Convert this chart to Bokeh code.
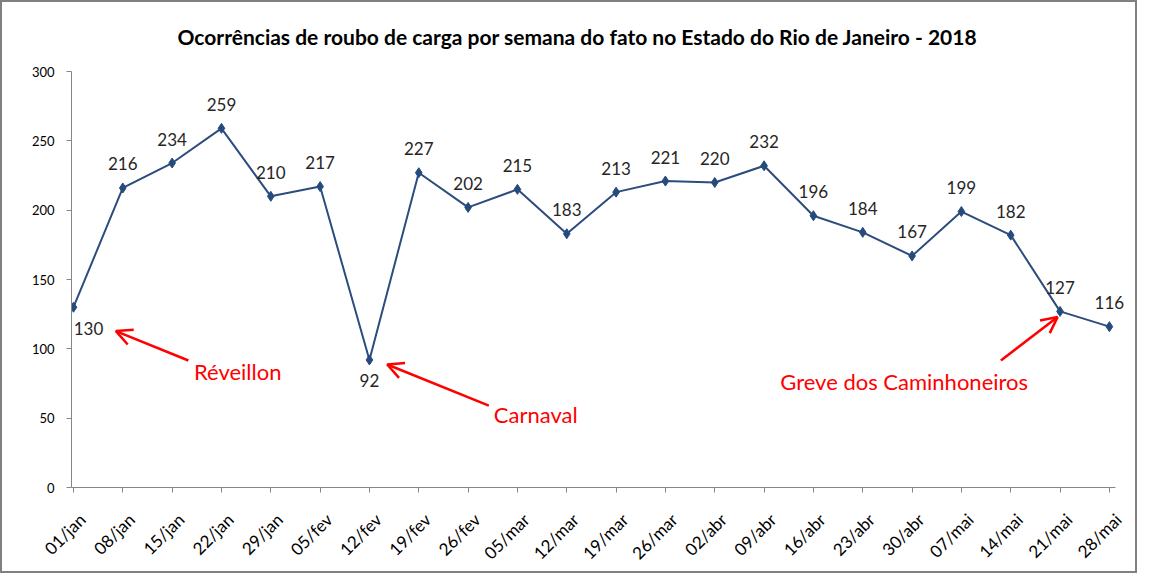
import math
from bokeh.plotting import figure
from bokeh.models import (Label, LabelSet, Arrow, OpenHead, FixedTicker,
                          ColumnDataSource, Range1d, LinearAxis,
                          CustomJSTickFormatter)
from bokeh.embed import file_html
from bokeh.resources import INLINE
from bokeh.core.properties import value

# ---------------- data ----------------
weeks = ["01/jan", "08/jan", "15/jan", "22/jan", "29/jan", "05/fev", "12/fev",
         "19/fev", "26/fev", "05/mar", "12/mar", "19/mar", "26/mar", "02/abr",
         "09/abr", "16/abr", "23/abr", "30/abr", "07/mai", "14/mai", "21/mai",
         "28/mai"]
counts = [130, 216, 234, 259, 210, 217, 92, 227, 202, 215, 183, 213, 221, 220,
          232, 196, 184, 167, 199, 182, 127, 116]
y_ticks = [0, 50, 100, 150, 200, 250, 300]
title_text = "Ocorrências de roubo de carga por semana do fato no Estado do Rio de Janeiro - 2018"

# annotations (text + arrow), in data units
notes = ["Réveillon", "Carnaval", "Greve dos Caminhoneiros"]
note_x = [3.33, 9.37, 16.84]
note_y = [83.6, 52.6, 76.4]
arrow_tail_x = [2.33, 8.42, 18.80]
arrow_tail_y = [91.6, 59.1, 91.6]
arrow_tip_x = [0.86, 6.36, 19.95]
arrow_tip_y = [112.8, 88.7, 122.9]
labels_below = {0, 6}

FONT = "Lato"
W, H = 1137, 573
LABEL_SHIFT = 0.18  # category-label shift (in category units)

xs = list(range(len(weeks)))
src = ColumnDataSource(dict(
    x=xs, y=counts, txt=[str(c) for c in counts],
    xo=[15 if i == 0 else 0 for i in xs],
    yo=[-21 if i in labels_below else 24 for i in xs],
))

p = figure(width=W, height=H, output_backend="svg", toolbar_location=None,
           x_range=Range1d(-0.04, 21.57), y_range=Range1d(0, 300),
           min_border_left=69, min_border_right=2, min_border_top=69,
           min_border_bottom=88)
p.styles = {"border": "2px solid #808080", "box-sizing": "border-box"}
p.outline_line_color = None
p.xgrid.visible = False
p.ygrid.visible = False
p.background_fill_color = "white"
p.border_fill_color = "white"

# title
p.title.text = title_text
p.title.align = "left"
p.title.offset = 106
p.title.vertical_align = "top"
p.title.text_font = FONT
p.title.text_font_size = "21px"
p.title.text_font_style = "bold"
p.title.text_color = "#000000"
p.title.standoff = 42

# axes
for ax in (p.xaxis[0], p.yaxis[0]):
    ax.axis_line_color = "#868686"
    ax.major_tick_line_color = "#868686"
    ax.minor_tick_line_color = None
    ax.major_tick_out = 5
    ax.major_tick_in = 0
    ax.major_label_text_font = FONT
    ax.major_label_text_color = "#000000"

p.yaxis.ticker = FixedTicker(ticks=y_ticks)
p.yaxis.major_label_text_font_size = "13px"
p.yaxis.major_label_standoff = 12

p.xaxis.ticker = FixedTicker(ticks=xs)
p.xaxis.bounds = (-0.04, 21.12)
p.xaxis.major_label_overrides = {i: "" for i in xs}
p.xaxis.major_label_standoff = 0

# category labels on a second (line-less) axis, shifted a little right
lab_axis = LinearAxis(
    ticker=FixedTicker(ticks=[i + LABEL_SHIFT for i in xs]),
    formatter=CustomJSTickFormatter(
        args=dict(weeks=weeks, shift=LABEL_SHIFT),
        code="return weeks[Math.round(tick - shift)];"),
    axis_line_color=None, major_tick_line_color=None,
    minor_tick_line_color=None,
    major_label_orientation=math.pi / 4,
    major_label_text_font=FONT, major_label_text_font_size="17px",
    major_label_text_color="#000000", major_label_standoff=18)
p.add_layout(lab_axis, "below")

# series
p.line("x", "y", source=src, line_color="#2C4C7E", line_width=2)
p.scatter("x", "y", source=src, marker="diamond", size=10,
          fill_color="#254A7C", line_color="#254A7C")

labels = LabelSet(x="x", y="y", text="txt", source=src, x_offset="xo",
                  y_offset="yo", text_align="center", text_baseline="middle",
                  text_font=value(FONT), text_font_size="17px",
                  text_color="#262626")
p.add_layout(labels)

# annotations
for i in range(len(notes)):
    p.add_layout(Arrow(x_start=arrow_tail_x[i], y_start=arrow_tail_y[i],
                       x_end=arrow_tip_x[i], y_end=arrow_tip_y[i],
                       line_color="#FF0000", line_width=2.5,
                       end=OpenHead(size=16, line_color="#FF0000",
                                    line_width=2.5)))
    p.add_layout(Label(x=note_x[i], y=note_y[i], text=notes[i],
                       text_align="center", text_baseline="middle",
                       text_font=FONT, text_font_size="22px",
                       text_color="#FF0000"))

open("out.html", "w").write(file_html(p, INLINE))
